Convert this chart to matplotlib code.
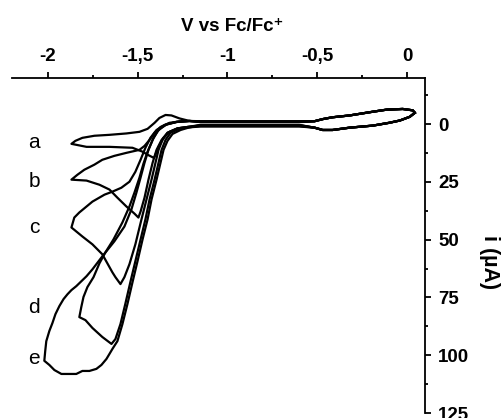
import matplotlib
matplotlib.use("Agg")
import matplotlib.pyplot as plt
from matplotlib.ticker import FixedLocator

plt.rcParams['font.family'] = ['Liberation Sans', 'DejaVu Sans']

# Fc/Fc+ loop (common to all scans)
fc_lower_v = [0.043, 0.015, -0.04, -0.10, -0.19, -0.32, -0.415, -0.47, -0.515]
fc_lower_i = [-4.9, -3.2, -1.6, -0.6, 0.6, 1.5, 2.5, 2.5, 1.5]
fc_upper_v = [-0.515, -0.47, -0.415, -0.319, -0.191, -0.114, -0.024, 0.032, 0.043]
fc_upper_i = [-1.3, -2.2, -3.0, -3.8, -5.4, -6.3, -6.6, -6.0, -4.9]

# baseline between -0.5 and -1.2 V (forward / reverse level for each scan)
base_v = [-0.6, -0.9, -1.15]
base_fwd_i = [0.3, 0.5, 0.8, 1.0, 0.4]
base_rev_i = [-1.3, -1.1, -0.9, -1.2, -1.0]

# reduction part of the scans a-e
a_v = [-1.222, -1.278, -1.323, -1.356, -1.384, -1.406, -1.412, -1.445, -1.473, -1.529, -1.657, -1.785, -1.869,
       -1.847, -1.808, -1.741, -1.657, -1.563, -1.49, -1.445, -1.406, -1.379, -1.345, -1.312, -1.267, -1.211]
a_i = [1.2, 1.8, 3.3, 5.9, 9.8, 14.1, 14.5, 13.2, 11.9, 10.2, 9.8, 9.8, 8.5,
       7.2, 5.9, 5.0, 4.6, 4.0, 3.3, 2.0, -0.6, -2.7, -4.0, -3.8, -2.5, -1.4]

b_v = [-1.222, -1.278, -1.334, -1.367, -1.395, -1.417, -1.44, -1.462, -1.484, -1.496,
       -1.518, -1.563, -1.613, -1.657, -1.713, -1.785, -1.869,
       -1.836, -1.797, -1.741, -1.697, -1.63, -1.563, -1.49, -1.462, -1.434, -1.406, -1.373, -1.323, -1.267, -1.211]
b_i = [1.2, 1.8, 3.7, 6.8, 11.1, 16.7, 24.0, 31.8, 37.8, 40.4,
       38.7, 35.6, 31.8, 28.3, 26.2, 24.4, 24.0,
       21.9, 19.7, 17.5, 15.4, 13.7, 12.4, 11.1, 9.4, 6.8, 3.7, 1.2, -0.6, -1.2, -1.4]

c_v = [-1.222, -1.278, -1.334, -1.362, -1.384, -1.401, -1.423, -1.451, -1.479, -1.513, -1.546, -1.574, -1.596,
       -1.624, -1.641, -1.669, -1.697, -1.752, -1.808, -1.869,
       -1.853, -1.825, -1.752, -1.685, -1.641, -1.591, -1.546, -1.513, -1.484, -1.457, -1.429, -1.395, -1.35,
       -1.284, -1.211]
c_i = [1.2, 1.8, 3.7, 6.8, 11.1, 16.7, 24.0, 32.6, 41.2, 52.0, 60.6, 66.2, 69.2,
       66.2, 64.1, 60.2, 56.3, 52.0, 48.6, 44.7,
       40.4, 38.2, 33.5, 30.5, 29.2, 27.5, 24.9, 20.6, 15.4, 10.2, 5.9, 2.5, 0.3,
       -1.0, -1.4]

d_v = [-1.222, -1.267, -1.317, -1.345, -1.367, -1.384, -1.406, -1.434, -1.457, -1.484, -1.513, -1.541, -1.569,
       -1.596, -1.624, -1.646,
       -1.697, -1.752, -1.791, -1.825,
       -1.814, -1.802, -1.78, -1.746, -1.713, -1.68, -1.635, -1.585, -1.546, -1.518, -1.49, -1.468, -1.445,
       -1.417, -1.389, -1.345, -1.284, -1.211]
d_i = [1.4, 2.0, 3.7, 6.8, 11.1, 16.7, 24.0, 32.6, 41.2, 49.9, 59.3, 68.4, 77.8,
       86.5, 93.0, 95.1,
       92.1, 88.2, 84.8, 83.5,
       79.1, 74.8, 70.5, 66.2, 60.2, 55.5, 49.9, 42.5, 35.6, 29.6, 23.1, 17.1, 11.9,
       6.8, 2.9, 0.3, -1.0, -1.4]

e_v = [-1.222, -1.261, -1.306, -1.334, -1.356, -1.373, -1.395, -1.423, -1.445, -1.473, -1.501, -1.529, -1.557,
       -1.585, -1.613, -1.641,
       -1.657, -1.674, -1.702, -1.73, -1.769, -1.808, -1.842, -1.925, -1.964, -1.992, -2.02,
       -2.015, -2.009, -1.992, -1.975, -1.958, -1.936, -1.913, -1.891, -1.869, -1.842, -1.785, -1.752, -1.697,
       -1.63, -1.574, -1.535, -1.507, -1.484, -1.462, -1.44, -1.412, -1.379, -1.334, -1.278, -1.211]
e_i = [1.6, 2.5, 4.2, 7.2, 11.1, 16.7, 24.0, 32.6, 41.2, 49.9, 59.3, 68.4, 77.8,
       86.5, 93.9, 97.3,
       99.4, 101.6, 104.2, 105.9, 106.8, 106.8, 108.1, 108.1, 106.4, 104.2, 102.4,
       98.2, 93.9, 89.5, 86.1, 82.2, 78.7, 75.7, 73.6, 71.8, 70.1, 65.8, 62.8, 57.2,
       50.7, 44.3, 36.9, 29.6, 23.1, 16.7, 11.1, 5.9, 2.0, -0.1, -1.0, -1.4]

scans = {'a': (a_v, a_i), 'b': (b_v, b_i), 'c': (c_v, c_i), 'd': (d_v, d_i), 'e': (e_v, e_i)}
label_v = -2.076
label_i = {'a': 8.1, 'b': 24.9, 'c': 44.7, 'd': 79.2, 'e': 101.6}

fig = plt.figure(figsize=(5.01, 4.18), dpi=100)
ax = fig.add_axes([12 / 501, 5 / 418, 413 / 501, 335 / 418])

for k, (name, (sv, si)) in enumerate(scans.items()):
    v = fc_lower_v + base_v + sv + base_v[::-1] + fc_upper_v
    i = (fc_lower_i + [base_fwd_i[k]] * len(base_v) + si
         + [base_rev_i[k]] * len(base_v) + fc_upper_i)
    ax.plot(v, i, color='black', lw=1.6, solid_joinstyle='round')
    ax.text(label_v, label_i[name], name, fontsize=15, ha='center', va='center')

ax.set_xlim(-2.2, 0.1)
ax.set_ylim(125, -20)

for side in ['left', 'bottom']:
    ax.spines[side].set_visible(False)
for side in ['top', 'right']:
    ax.spines[side].set_linewidth(1.3)

ax.xaxis.tick_top()
ax.yaxis.tick_right()
ax.xaxis.set_major_locator(FixedLocator([-2, -1.5, -1, -0.5, 0]))
ax.xaxis.set_minor_locator(FixedLocator([-1.75, -1.25, -0.75, -0.25]))
ax.set_xticklabels(['-2', '-1,5', '-1', '-0,5', '0'])
ax.yaxis.set_major_locator(FixedLocator([0, 25, 50, 75, 100, 125]))
ax.yaxis.set_minor_locator(FixedLocator([-12.5, 12.5, 37.5, 62.5, 87.5, 112.5]))
ax.set_yticklabels(['0', '25', '50', '75', '100', '125'])

ax.tick_params(which='major', length=4.5, width=1.3, direction='out', labelsize=13.5, pad=5)
ax.tick_params(which='minor', length=2.5, width=1.3, direction='out')
for lab in ax.get_xticklabels() + ax.get_yticklabels():
    lab.set_fontweight('bold')

ax.xaxis.set_label_position('top')
ax.set_xlabel('V vs Fc/Fc\u207a', fontsize=13.5, fontweight='bold')
ax.xaxis.label.set_va('center')
ax.xaxis.set_label_coords(0.532, 1.155)

ax.yaxis.set_label_position('right')
ax.set_ylabel('i (\u00b5A)', fontsize=15.5, fontweight='bold', rotation=-90)
ax.yaxis.label.set_va('center')
ax.yaxis.label.set_ha('center')
ax.yaxis.set_label_coords(1.157, 0.452)

fig.savefig('out.png', dpi=100)
